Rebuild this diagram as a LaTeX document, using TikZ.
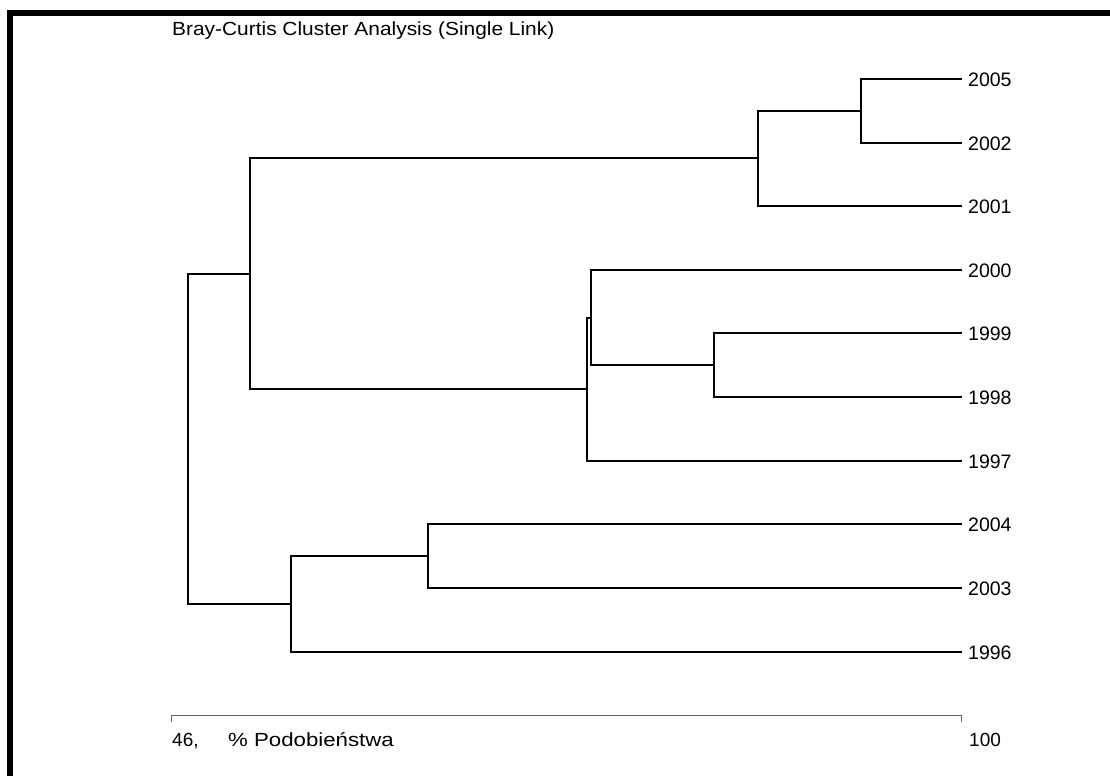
\documentclass[tikz,border=0pt]{standalone}
\usepackage{fontspec}
\setmainfont{Liberation Sans}
\usetikzlibrary{calc}
\begin{document}
\begin{tikzpicture}[x=1pt,y=-1pt,
  branch/.style={line width=1.5pt,black},
  leaf/.style={anchor=base west,inner sep=0pt,font=\fontsize{19.5}{22}\selectfont},
  axislbl/.style={anchor=base west,inner sep=0pt,font=\fontsize{19}{22}\selectfont},
  axisline/.style={line width=1pt,black!60},
  frame/.style={fill=black,draw=none}]
\useasboundingbox (0,0) rectangle (1110,776);
\fill[white] (0,0) rectangle (1110,776);
% frame bars
\path[frame] (7,10) rectangle (1110,16);
\path[frame] (7,10) rectangle (13,776);
% title
\node[anchor=base west,inner sep=0pt,font=\fontsize{19}{22}\selectfont] (title) at (172,35.5)
  {\scalebox{1.1}[1]{Bray-Curtis Cluster Analysis (Single Link)}};
% leaves
\foreach \n/\y in {2005/79,2002/143,2001/206,2000/270,1999/333,1998/397,1997/461,2004/524,2003/588,1996/652}{
  \node[leaf] (l\n) at (968,\y+7.3) {\n};
  \coordinate (e\n) at (962,\y);
}
% internal nodes
\coordinate (a) at (861,111);
\coordinate (b) at (758,158);
\coordinate (c) at (714,365);
\coordinate (d) at (591,318);
\coordinate (e) at (587,389);
\coordinate (f) at (250,274);
\coordinate (g) at (428,556);
\coordinate (h) at (291,604);
\coordinate (r) at (188,439);
% branches
\draw[branch] (e2005) -| (a) |- (e2002);
\draw[branch] (a) -| (b) |- (e2001);
\draw[branch] (e1999) -| (c) |- (e1998);
\draw[branch] (e2000) -| (d) |- (c);
\draw[branch] (d) -| (e) |- (e1997);
\draw[branch] (b) -| (f) |- (e);
\draw[branch] (e2004) -| (g) |- (e2003);
\draw[branch] (g) -| (h) |- (e1996);
\draw[branch] (f) -| (r) |- (h);
% axis
\coordinate (ax0) at (171.5,715.5);
\coordinate (ax1) at (961,715.5);
\draw[axisline] ($(ax0)+(0,6)$) -- (ax0) -- (ax1) -- ($(ax1)+(0,6)$);
\node[axislbl] (lmin) at (172,746) {46,};
\node[axislbl] (lname) at (228,746) {\scalebox{1.17}[1]{\% Podobieństwa}};
\node[axislbl] (lmax) at (969,746) {100};
\end{tikzpicture}
\end{document}
